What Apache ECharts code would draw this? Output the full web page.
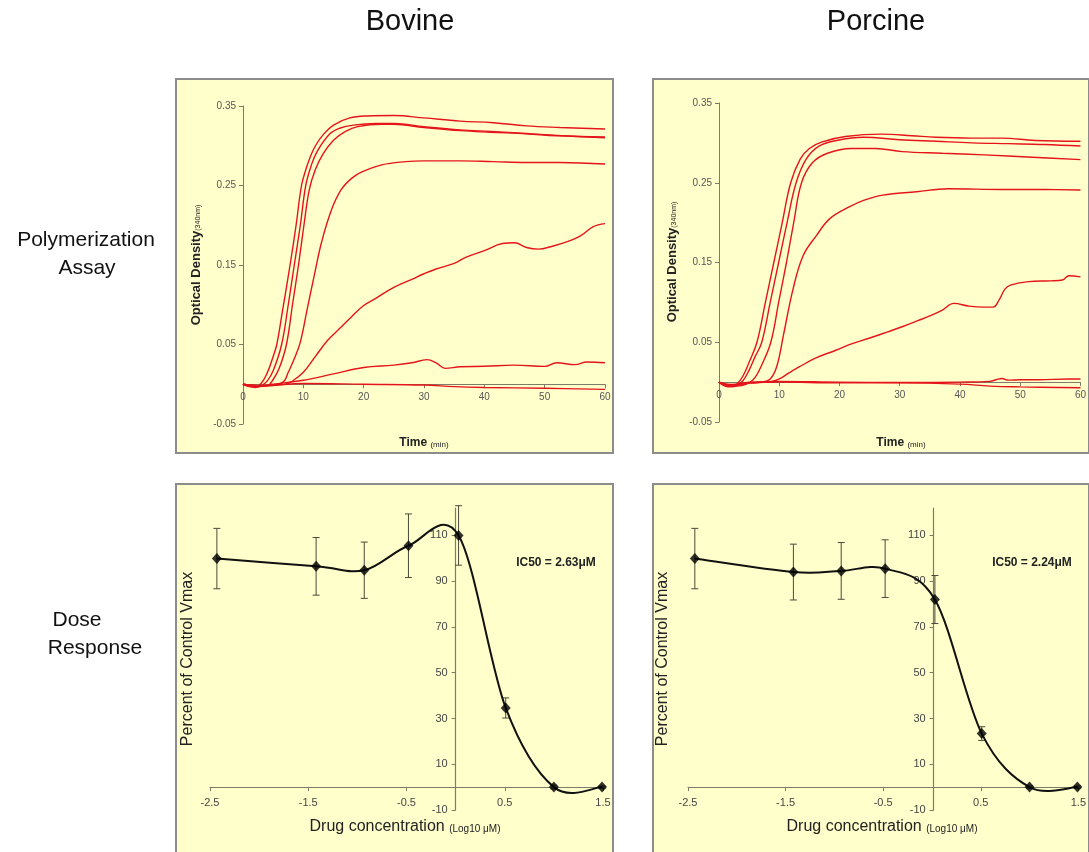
<!DOCTYPE html>
<html><head><meta charset="utf-8">
<script src="https://cdn.jsdelivr.net/npm/echarts@6/dist/echarts.min.js"></script>
<style>html,body{margin:0;padding:0;background:#fff}#c{width:1089px;height:852px}</style>
</head><body><div id="c"></div>
<script>
// ---------- Polymerization assay (time in min, optical density) ----------
const bovineA = [[0,0],[1,-0.002],[2,-0.003],[3,0.001],[4,0.014],[5,0.035],[5.6,0.05],[6.5,0.09],[7.8,0.15],[8.8,0.2],[9.7,0.25],[10.5,0.272],[11.1,0.285],[12,0.3],[13.3,0.314],[15,0.326],[17.7,0.335],[20.5,0.3375],[25,0.338],[30,0.335],[36,0.331],[41.5,0.329],[47,0.325],[52.5,0.323],[60,0.321]];
const bovineB = [[0,0],[1,-0.003],[2,-0.004],[3,-0.002],[4,0.004],[5,0.017],[6.4,0.05],[7.5,0.1],[8.5,0.15],[9.5,0.2],[10.4,0.25],[11.3,0.275],[12.3,0.293],[14.4,0.315],[16,0.322],[18.3,0.326],[22,0.328],[25,0.328],[30,0.324],[36,0.32],[41,0.318],[47,0.3155],[52,0.313],[60,0.31]];
const bovineC = [[0,0],[2,-0.003],[4,-0.002],[5,0.006],[6,0.02],[7.2,0.05],[8.2,0.1],[9.2,0.15],[10.1,0.2],[11,0.245],[12,0.27],[13.3,0.29],[15,0.307],[17,0.318],[19,0.324],[23,0.327],[25,0.327],[30,0.323],[36,0.319],[41,0.317],[47,0.315],[52,0.3125],[60,0.311]];
const bovineD = [[0,0],[3,-0.002],[5,-0.001],[6.7,0.003],[7.5,0.015],[8.5,0.032],[9.5,0.053],[10.6,0.093],[11.9,0.14],[13,0.178],[14.7,0.22],[16.3,0.245],[18,0.259],[19.7,0.267],[23,0.276],[27,0.28],[30,0.281],[36,0.281],[41.5,0.28],[47,0.279],[52.5,0.279],[60,0.277]];
const bovineE = [[0,0],[3,-0.002],[7,0],[8,0.003],[10,0.015],[12,0.035],[14,0.055],[16,0.07],[18,0.085],[20,0.099],[22,0.108],[25,0.122],[28,0.132],[30,0.139],[32,0.145],[35,0.152],[37,0.16],[40,0.168],[43,0.177],[45,0.178],[47,0.172],[49,0.17],[51,0.173],[54,0.18],[56,0.187],[58,0.198],[60,0.202]];
const bovineF = [[0,0],[3,-0.002],[5,0],[10,0.005],[15,0.013],[20,0.021],[25,0.024],[28,0.027],[30.5,0.031],[32,0.027],[33.5,0.02],[36,0.022],[40,0.0226],[45,0.024],[50,0.0225],[52,0.027],[55,0.0247],[57,0.028],[60,0.027]];
const bovineG = [[0,0],[3,-0.002],[10,0.001],[20,0],[30,-0.001],[35,-0.003],[40,-0.004],[50,-0.005],[60,-0.0065]];

const porcineA = [[0,0],[1,-0.004],[2,-0.005],[3,-0.002],[4,0.008],[5,0.025],[6.3,0.05],[7.7,0.1],[9.1,0.15],[10.5,0.2],[11.9,0.25],[13.5,0.28],[15,0.293],[17,0.301],[21,0.308],[27,0.311],[32,0.309],[36,0.307],[42,0.306],[47,0.306],[52.5,0.303],[60,0.302]];
const porcineB = [[0,0],[1,-0.005],[2,-0.006],[3,-0.004],[4,0.002],[5,0.015],[6,0.032],[7.1,0.05],[8.5,0.1],[9.9,0.15],[11.3,0.2],[12.8,0.25],[14.5,0.28],[16.6,0.296],[19.5,0.303],[24,0.307],[30,0.304],[36,0.302],[42,0.3],[48,0.299],[54,0.298],[60,0.296]];
const porcineC = [[0,0],[1,-0.004],[3,-0.005],[5,-0.001],[6,0.006],[7,0.02],[8.6,0.05],[9.9,0.1],[11.2,0.15],[12.4,0.2],[13.7,0.25],[15.5,0.275],[18,0.287],[22,0.293],[26,0.293],[30.4,0.289],[37,0.287],[44,0.285],[52,0.282],[60,0.279]];
const porcineD = [[0,0],[2,-0.003],[5,-0.001],[7,0],[8.5,0.004],[9.6,0.02],[10.7,0.059],[12.3,0.117],[14,0.159],[16.2,0.184],[18.4,0.205],[21.7,0.22],[24,0.228],[27.2,0.2345],[32.8,0.2387],[38,0.2425],[47,0.2416],[54,0.2415],[60,0.241]];
const porcineE = [[0,0],[2,-0.004],[5,-0.001],[8,0],[9.4,0.002],[10.5,0.006],[11.5,0.011],[13.3,0.019],[16,0.03],[19.4,0.04],[22,0.048],[24.9,0.055],[28,0.063],[30.4,0.0694],[33,0.077],[35,0.083],[37,0.09],[39,0.0987],[41.5,0.0953],[44,0.094],[45.5,0.094],[46.5,0.103],[47.5,0.117],[48.5,0.122],[51.4,0.126],[55,0.127],[57,0.128],[58.1,0.1334],[60,0.132]];
const porcineF = [[0,0],[2,-0.004],[5,0],[10,0.001],[20,0],[30,-0.0005],[40,0],[45,0.001],[46,0.003],[47,0.0046],[48,0.0025],[50,0.003],[53,0.003],[58,0.004],[60,0.004]];
const porcineG = [[0,0],[2,-0.005],[5,-0.001],[10,0],[20,-0.001],[30,-0.001],[40,-0.0025],[45,-0.005],[50,-0.006],[60,-0.007]];

// ---------- Dose response (log10 uM, percent of control Vmax) ----------
const doseLogConc = [-2.43,-1.42,-0.93,-0.48,0.03,0.51,1.0,1.49];
const bovineVmax  = [99.9,96.5,94.8,105.5,110,34.6,0,0];
const bovineSE    = [13.2,12.6,12.3,13.9,13,4.4,0.8,0.5];
const porcineVmax = [99.9,94,94.5,95.5,82,23.4,0,0];
const porcineSE   = [13.2,12.2,12.4,12.6,10.5,3,0.5,0.5];

// axis ranges / ticks
const timeRange = [0,60,10];
const odRange = [-0.05,0.35,0.1];
const concRange = [-2.5,1.5,1];
const pctRange = [-10,122,20];

const panelTitles = ['Bovine','Porcine'];
const ic50Labels = ['IC50 = 2.63\u03bcM','IC50 = 2.24\u03bcM'];

const FONT = 'Liberation Sans, Arial, sans-serif';
const axisColor = '#7d7d66';
const red = '#e5141b';

const chart = echarts.init(document.getElementById('c'), null, {renderer:'canvas'});

const grids = [
  {left:243, top:106, width:362, height:318},
  {left:719, top:103, width:362, height:319},
  {left:210, top:508, width:393, height:302},
  {left:688, top:508, width:393, height:302}
];

// place an axis line at the zero of the other axis (offset from grid edge)
function zeroOffset(range, len){ return -((0 - range[0]) / (range[1] - range[0])) * len; }

function timeAxis(i){
  return {gridIndex:i, type:'value', min:timeRange[0], max:timeRange[1], interval:timeRange[2],
    offset: zeroOffset(odRange, grids[i].height),
    axisLine:{onZero:false, lineStyle:{color:axisColor, width:1}},
    axisTick:{length:4, lineStyle:{color:axisColor}},
    axisLabel:{fontSize:10, color:'#555', margin:8, fontFamily:FONT},
    splitLine:{show:false}};
}
function odAxis(i){
  return {gridIndex:i, type:'value', min:odRange[0], max:odRange[1], interval:odRange[2],
    axisLine:{onZero:false, lineStyle:{color:axisColor, width:1}},
    axisTick:{length:4, lineStyle:{color:axisColor}},
    axisLabel:{fontSize:10, color:'#555', margin:7, fontFamily:FONT, formatter:v=>v.toFixed(2)},
    splitLine:{show:false}};
}
function concAxis(i){
  return {gridIndex:i, type:'value', min:concRange[0], max:concRange[1], interval:concRange[2],
    offset: zeroOffset(pctRange, grids[i].height),
    axisLine:{onZero:false, lineStyle:{color:axisColor, width:1.2}},
    axisTick:{length:4, lineStyle:{color:axisColor}},
    axisLabel:{fontSize:11, color:'#444', margin:10, fontFamily:FONT},
    splitLine:{show:false}};
}
function pctAxis(i){
  return {gridIndex:i, type:'value', min:pctRange[0], max:pctRange[1], interval:pctRange[2],
    offset: zeroOffset(concRange, grids[i].width),
    axisLine:{onZero:false, lineStyle:{color:axisColor, width:1.2}},
    axisTick:{length:4, lineStyle:{color:axisColor}},
    axisLabel:{fontSize:11, color:'#444', margin:8, fontFamily:FONT, showMaxLabel:false},
    splitLine:{show:false}};
}

const series = [];
function addCurves(list, gi){
  list.forEach(d=>{
    series.push({type:'line', xAxisIndex:gi, yAxisIndex:gi, data:d, showSymbol:false,
      smooth:0.4, lineStyle:{color:red, width:1.4}, z:3, silent:true});
  });
}
addCurves([bovineA,bovineB,bovineC,bovineD,bovineE,bovineF,bovineG], 0);
addCurves([porcineA,porcineB,porcineC,porcineD,porcineE,porcineF,porcineG], 1);

function errRender(params, api){
  const x = api.value(0), lo = api.value(1), hi = api.value(2);
  const a = api.coord([x, hi]), b = api.coord([x, lo]);
  const w = 3.5;
  const st = {stroke:'#4a4a3a', lineWidth:1};
  return {type:'group', children:[
    {type:'line', shape:{x1:a[0], y1:a[1], x2:b[0], y2:b[1]}, style:st},
    {type:'line', shape:{x1:a[0]-w, y1:a[1], x2:a[0]+w, y2:a[1]}, style:st},
    {type:'line', shape:{x1:b[0]-w, y1:b[1], x2:b[0]+w, y2:b[1]}, style:st}
  ]};
}
// Excel-style (Catmull-Rom) smoothed curve through the measured points
function curveRender(pts){
  return function(params, api){
    const i = params.dataIndex;
    const P = k => api.coord(pts[Math.max(0, Math.min(pts.length-1, k))]);
    const p0 = P(i-1), p1 = P(i), p2 = P(i+1), p3 = P(i+2);
    return {type:'bezierCurve', shape:{
      x1:p1[0], y1:p1[1], x2:p2[0], y2:p2[1],
      cpx1:p1[0] + (p2[0]-p0[0])/6, cpy1:p1[1] + (p2[1]-p0[1])/6,
      cpx2:p2[0] - (p3[0]-p1[0])/6, cpy2:p2[1] - (p3[1]-p1[1])/6},
      style:{stroke:'#111', lineWidth:2, fill:'none'}};
  };
}
function addDose(mean, se, gi){
  const pts = doseLogConc.map((x,i)=>[x, mean[i]]);
  series.push({type:'custom', xAxisIndex:gi, yAxisIndex:gi, renderItem:errRender,
    encode:{x:0, y:[1,2]}, z:2, silent:true,
    data:doseLogConc.map((x,i)=>[x, mean[i]-se[i], mean[i]+se[i]])});
  series.push({type:'custom', xAxisIndex:gi, yAxisIndex:gi, renderItem:curveRender(pts),
    encode:{x:[0,2], y:[1,3]}, z:3, silent:true,
    data:pts.slice(0,-1).map((p,i)=>[p[0], p[1], pts[i+1][0], pts[i+1][1]])});
  series.push({type:'scatter', xAxisIndex:gi, yAxisIndex:gi, data:pts,
    symbol:'diamond', symbolSize:[10,11], itemStyle:{color:'#000'}, z:4, silent:true});
}
addDose(bovineVmax, bovineSE, 2);
addDose(porcineVmax, porcineSE, 3);

function txt(x, y, text, fontSize, opts){
  opts = opts || {};
  return Object.assign({type:'text', x:x, y:y, z:10, silent:true,
    style:Object.assign({text:text, fontSize:fontSize, fontFamily:FONT, fill:'#111',
      align:'center', verticalAlign:'middle', textAlign:'center', textVerticalAlign:'middle'}, opts.style||{})},
    opts.el||{});
}

const graphics = [
  {type:'rect', z:-10, silent:true, shape:{x:176,y:79,width:437,height:374}, style:{fill:'#ffffcc', stroke:'#8c8c8c', lineWidth:2}},
  {type:'rect', z:-10, silent:true, shape:{x:653,y:79,width:436,height:374}, style:{fill:'#ffffcc', stroke:'#8c8c8c', lineWidth:2}},
  {type:'rect', z:-10, silent:true, shape:{x:176,y:484,width:437,height:370}, style:{fill:'#ffffcc', stroke:'#8c8c8c', lineWidth:2}},
  {type:'rect', z:-10, silent:true, shape:{x:653,y:484,width:436,height:370}, style:{fill:'#ffffcc', stroke:'#8c8c8c', lineWidth:2}},
  txt(410, 22, panelTitles[0], 29),
  txt(876, 22, panelTitles[1], 29),
  txt(86, 240, 'Polymerization', 21),
  txt(87, 268, 'Assay', 21),
  txt(77, 620, 'Dose', 21),
  txt(95, 648, 'Response', 21),
  txt(556, 563, ic50Labels[0], 12, {style:{fontWeight:'bold', fill:'#222'}}),
  txt(1032, 563, ic50Labels[1], 12, {style:{fontWeight:'bold', fill:'#222'}}),
];
[[196,265],[672,262]].forEach(p=>{
  graphics.push(txt(p[0], p[1], '{a|Optical Density}{b|(340nm)}', 13, {
    el:{rotation:Math.PI/2},
    style:{rich:{a:{fontSize:13, fontWeight:'bold', fontFamily:FONT, fill:'#222'}, b:{fontSize:7, fontFamily:FONT, fill:'#222', padding:[4,0,0,0]}}}
  }));
});
[[424,443],[901,443]].forEach(p=>{
  graphics.push(txt(p[0], p[1], '{a|Time }{b|(min)}', 12, {
    style:{rich:{a:{fontSize:12, fontWeight:'bold', fontFamily:FONT, fill:'#222'}, b:{fontSize:8, fontFamily:FONT, fill:'#222', padding:[3,0,0,0]}}}
  }));
});
[[188,659],[663,659]].forEach(p=>{
  graphics.push(txt(p[0], p[1], 'Percent of Control Vmax', 16, {el:{rotation:Math.PI/2}, style:{fill:'#222'}}));
});
[[405,827],[882,827]].forEach(p=>{
  graphics.push(txt(p[0], p[1], '{a|Drug concentration }{b|(Log10 \u03bcM)}', 16, {
    style:{rich:{a:{fontSize:16, fontFamily:FONT, fill:'#222'}, b:{fontSize:10, fontFamily:FONT, fill:'#222', padding:[4,0,0,0]}}}
  }));
});

chart.setOption({
  animation:false,
  backgroundColor:'#ffffff',
  grid:grids,
  xAxis:[timeAxis(0), timeAxis(1), concAxis(2), concAxis(3)],
  yAxis:[odAxis(0), odAxis(1), pctAxis(2), pctAxis(3)],
  series:series,
  graphic:{elements:graphics}
});
</script>
</body></html>
